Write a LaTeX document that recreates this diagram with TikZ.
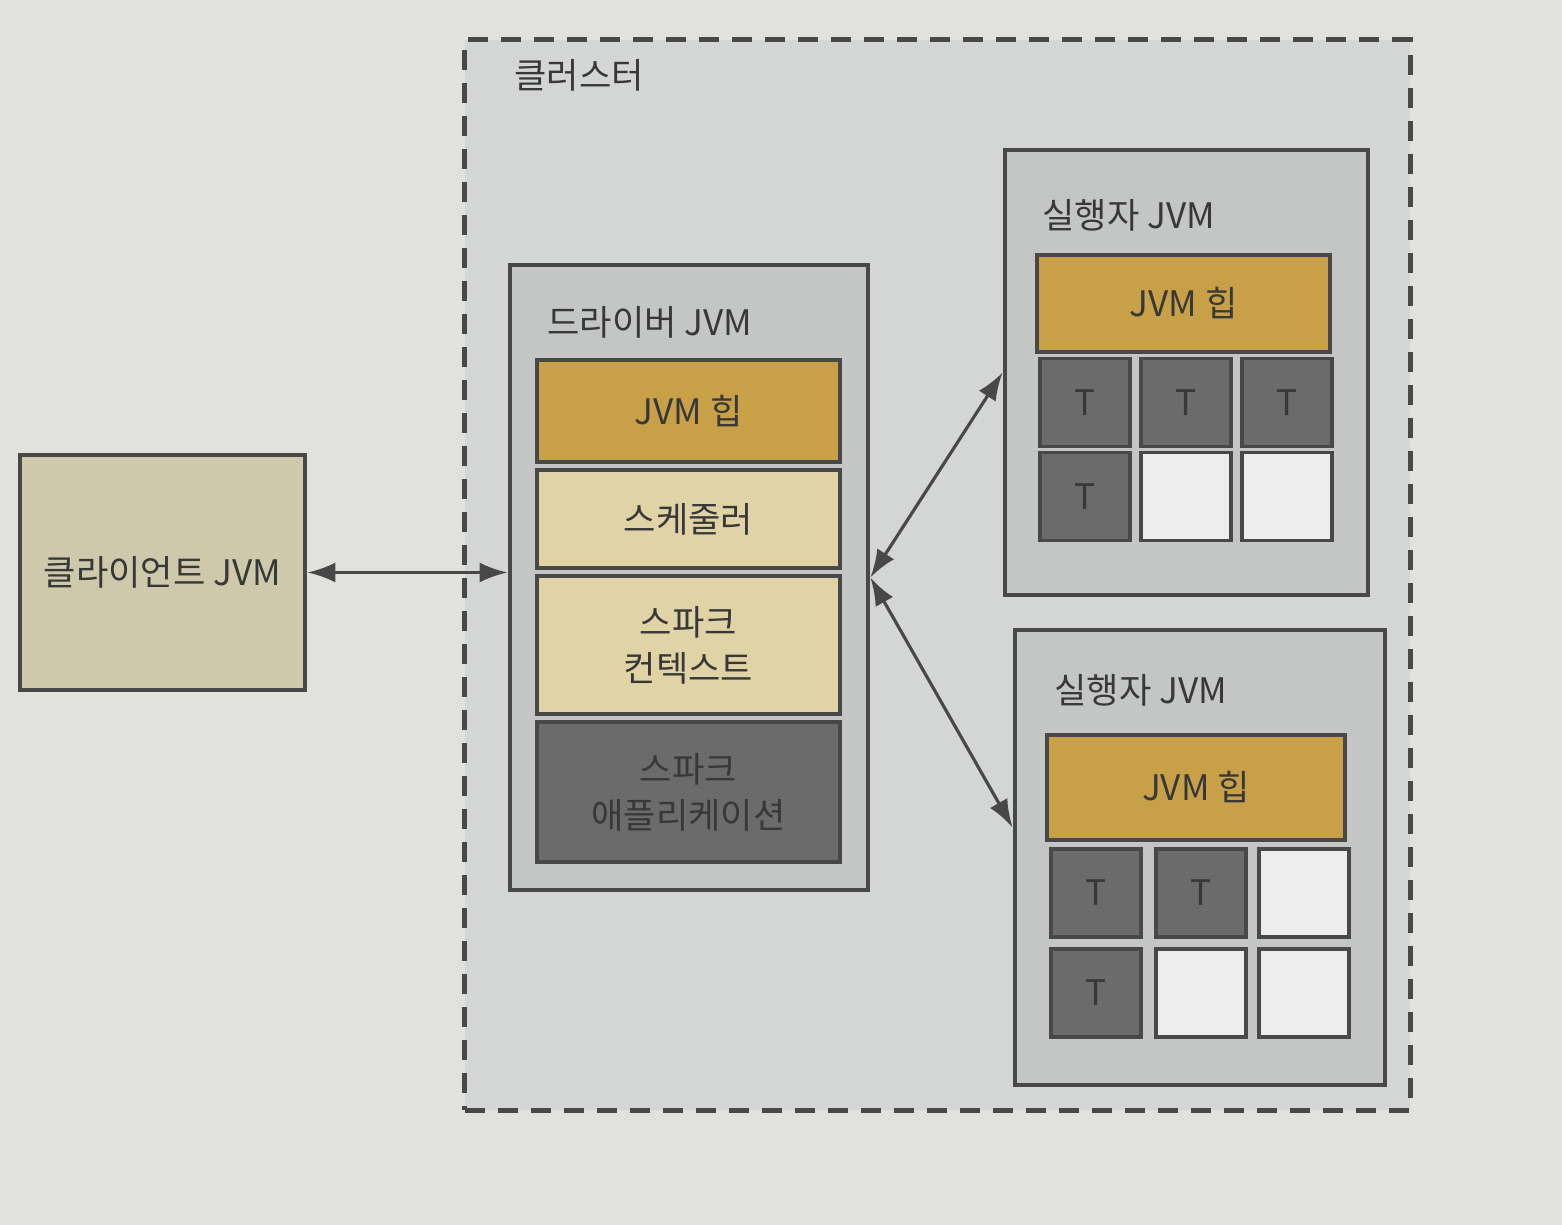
\documentclass[tikz,border=0pt]{standalone}
\usepackage{fontspec}
\newfontfamily\krfont{Noto Sans CJK KR}
\usepackage{xcolor}
\usepackage{tikz}
\usetikzlibrary{arrows.meta}

\definecolor{pagebg}{HTML}{E1E2DE}
\definecolor{clusterfill}{HTML}{D4D6D5}
\definecolor{jvmgray}{HTML}{C4C6C6}
\definecolor{linegray}{HTML}{484848}
\definecolor{heapgold}{HTML}{C8A048}
\definecolor{softtan}{HTML}{E0D3A6}
\definecolor{darkpart}{HTML}{6B6B6B}
\definecolor{emptycell}{HTML}{EDEDED}
\definecolor{clientfill}{HTML}{CFC9AC}
\definecolor{txtgray}{HTML}{383838}

\begin{document}
\begin{tikzpicture}[x=0.01cm, y=-0.01cm,
  every node/.style={font=\krfont\fontsize{10}{13}\selectfont, text=txtgray},
  jvm/.style={draw=linegray, line width=1.3pt, fill=jvmgray, inner sep=0pt},
  part/.style={draw=linegray, line width=1pt, inner sep=0pt, align=center},
  task/.style={part, fill=darkpart, minimum width=0.9cm, minimum height=0.88cm},
  free/.style={part, fill=emptycell, minimum width=0.9cm, minimum height=0.88cm},
  arr/.style={{Latex[length=2.8mm,width=2mm]}-{Latex[length=2.8mm,width=2mm]}, line width=0.9pt, draw=linegray}
]
\fill[pagebg] (0,0) rectangle (1562,1225);
\useasboundingbox (0,0) rectangle (1562,1225);

% cluster
\node[draw=linegray, fill=clusterfill, line width=1.3pt, dash pattern=on 0.2cm off 0.13cm,
      minimum width=9.45cm, minimum height=10.7cm] at (937.5,575) (cluster) {};
\node[anchor=west] at (502,75) (clusterlbl) {클러스터};

% client
\node[part, fill=clientfill, line width=1.3pt, minimum width=2.85cm, minimum height=2.35cm]
      at (162.5,572.5) (client) {클라이언트 JVM};

% driver
\node[jvm, minimum width=3.58cm, minimum height=6.25cm] at (689,577.5) (drv) {};
\node[anchor=west] at (535,322) (drvlbl) {드라이버 JVM};
\node[part, fill=heapgold, minimum width=3.03cm, minimum height=1.02cm] at (688.5,411) (drvheap) {JVM 힙};
\node[part, fill=softtan, minimum width=3.03cm, minimum height=0.98cm] at (688.5,519) (sched) {스케줄러};
\node[part, fill=softtan, minimum width=3.03cm, minimum height=1.38cm] at (688.5,645) (sctx) {스파크\\컨텍스트};
\node[part, fill=darkpart, minimum width=3.03cm, minimum height=1.40cm] at (688.5,792) (sapp) {스파크\\애플리케이션};

% executor 1
\node[jvm, minimum width=3.63cm, minimum height=4.45cm] at (1186.5,372.5) (exec1) {};
\node[anchor=west] at (1030,215) (exec1lbl) {실행자 JVM};
\node[part, fill=heapgold, minimum width=2.93cm, minimum height=0.97cm] at (1183.5,303.5) (exec1heap) {JVM 힙};
\node[task] at (1085,402.5) (e1a) {T};
\node[task] at (1186,402.5) (e1b) {T};
\node[task] at (1287,402.5) (e1c) {T};
\node[task] at (1085,496.5) (e1d) {T};
\node[free] at (1186,496.5) (e1e) {};
\node[free] at (1287,496.5) (e1f) {};

% executor 2
\node[jvm, minimum width=3.70cm, minimum height=4.55cm] at (1200,857.5) (exec2) {};
\node[anchor=west] at (1042,690) (exec2lbl) {실행자 JVM};
\node[part, fill=heapgold, minimum width=2.98cm, minimum height=1.05cm] at (1196,787.5) (exec2heap) {JVM 힙};
\node[task] at (1096,893) (e2a) {T};
\node[task] at (1201,893) (e2b) {T};
\node[free] at (1304,893) (e2c) {};
\node[task] at (1096,993) (e2d) {T};
\node[free] at (1201,993) (e2e) {};
\node[free] at (1304,993) (e2f) {};

\draw[arr] (client.east) -- (drv.west |- client.east);
\draw[arr] (drv.east) -- (exec1.west);
\draw[arr] (drv.east) -- ([yshift=0.3cm]exec2.west);
\end{tikzpicture}
\end{document}
